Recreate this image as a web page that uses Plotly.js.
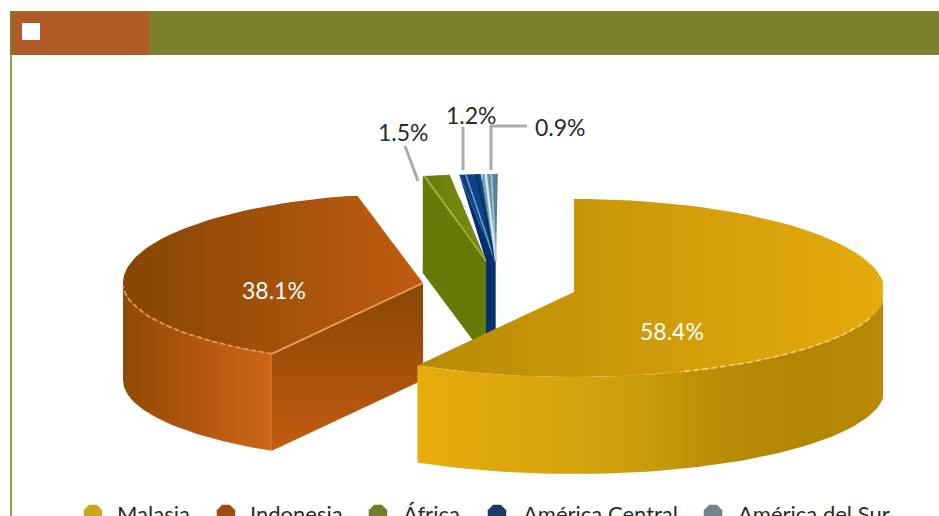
<!DOCTYPE html>
<html>
<head>
<meta charset="utf-8">
<script src="https://cdn.plot.ly/plotly-3.0.1.min.js"></script>
<style>html,body{margin:0;padding:0;background:#fff;overflow:hidden}#chart{width:939px;height:516px}</style>
</head>
<body>
<div id="chart"></div>
<script>
// Share of each origin, in percent, clockwise from twelve o'clock
const categories = ['Malasia', 'Indonesia', 'África', 'América Central', 'América del Sur'];
const shares = [58.4, 38.1, 1.5, 1.2, 0.9];
const shareLabels = ['58.4%', '38.1%', '1.5%', '1.2%', '0.9%'];

// Exploded centre and radii of each wedge, in plot units
const centreX = [574, 423, 486, 495, 496];
const centreY = [292, 283, 261, 261, 261];
const radiusX = [311, 300, 290, 285, 285];
const radiusBack = [93, 90, 87, 87, 87];
const radiusFront = [85, 82, 87, 87, 87];
const depth = 97;

// Colours for each wedge
const swatchColors = ['#C9A81E', '#A04C0C', '#6F7F2A', '#1A3A68', '#6F848F'];
const topStops = [['#B88A05', '#E6AB0C'], ['#874605', '#C05C10'], ['#6A7C08', '#7C8E12'], ['#0B3E80', '#114A8C'], ['#7FA6BC', '#4F7A92']];
const sideColors = ['#B28603', '#A84F0A', '#667A0A', '#062F6C', '#4F7A92'];

// Legend and label placement
const swatchX = [93, 226, 378, 497, 713];
const legendTextX = [115, 248, 401, 521, 736];
const labelX = [672, 274, 403, 471, 560];
const labelY = [331, 290, 132, 115, 127];
const labelColors = ['#ffffff', '#ffffff', '#2a2a2a', '#2a2a2a', '#2a2a2a'];

const clipLeft = 123, clipRight = 883, clipTop = 196;

let running = 0;
const startAngle = [], endAngle = [];
shares.forEach(function (s) {
  startAngle.push(running * 3.6);
  running += s;
  endAngle.push(running * 3.6);
});

function rim(i, deg) {
  const a = deg * Math.PI / 180, c = Math.cos(a);
  const ry = c > 0 ? radiusBack[i] : radiusFront[i];
  return [centreX[i] + radiusX[i] * Math.sin(a), centreY[i] - ry * c];
}
function arc(i, from, to, drop) {
  const pts = [], n = 80;
  for (let k = 0; k <= n; k++) {
    const p = rim(i, from + (to - from) * k / n);
    pts.push([p[0], p[1] + (drop || 0)]);
  }
  return pts;
}
function clampBig(pts) {
  return pts.map(function (p) {
    return [Math.max(clipLeft, Math.min(clipRight, p[0])), Math.max(clipTop, p[1])];
  });
}
function gradient(type, stops) {
  const scale = stops.map(function (c, k) { return [k / (stops.length - 1), c]; });
  return { type: type, colorscale: scale };
}
function poly(pts, fill) {
  const closed = pts.concat([pts[0]]);
  const t = {
    x: closed.map(function (p) { return p[0]; }),
    y: closed.map(function (p) { return p[1]; }),
    mode: 'lines', line: { width: 0 }, fill: 'toself', hoverinfo: 'skip', showlegend: false
  };
  if (typeof fill === 'string') { t.fillcolor = fill; } else { t.fillgradient = fill; t.fillcolor = 'rgba(0,0,0,0)'; }
  return t;
}
function stroke(pts, color, width, dash) {
  return {
    x: pts.map(function (p) { return p[0]; }),
    y: pts.map(function (p) { return p[1]; }),
    mode: 'lines', line: { color: color, width: width, dash: dash || 'solid' },
    hoverinfo: 'skip', showlegend: false
  };
}
function cutFace(i, deg, fill) {
  const r = rim(i, deg), c = [centreX[i], centreY[i]];
  return poly([r, c, [c[0], c[1] + depth], [r[0], r[1] + depth]], fill);
}
function topFace(i) {
  return [[centreX[i], centreY[i]]].concat(arc(i, startAngle[i], endAngle[i]));
}
function outerSide(i, from, to) {
  const upper = arc(i, from, to), lower = arc(i, from, to, depth).reverse();
  return clampBig(upper.concat(lower));
}
function streak(i, f, color, width) {
  const p = rim(i, startAngle[i] + (endAngle[i] - startAngle[i]) * f);
  return stroke([p, [centreX[i], centreY[i]]], color, width);
}

const traces = [];

// Small wedges, standing behind the two large ones
traces.push(cutFace(4, startAngle[4], sideColors[4]));
traces.push(cutFace(3, startAngle[3], sideColors[3]));
traces.push(poly([rim(2, endAngle[2]), rim(3, startAngle[3]), [centreX[2], centreY[2]]], '#ffffff'));
traces.push(cutFace(2, startAngle[2], sideColors[2]));
traces.push(poly(topFace(4), gradient('horizontal', topStops[4])));
traces.push(poly(topFace(3), gradient('horizontal', topStops[3])));
traces.push(poly(topFace(2), gradient('horizontal', topStops[2])));
traces.push(stroke([rim(2, startAngle[2] + 0.4), [centreX[2], centreY[2]]], '#A9B23C', 1.5));
traces.push(streak(3, 0.3, '#6FA0D0', 1.5));
traces.push(streak(3, 0.8, '#0A2F66', 2));
traces.push(streak(4, 0.25, '#D8E6EE', 2.5));
traces.push(streak(4, 0.6, '#A8C6D8', 1.5));

// Indonesia
const ind = 1;
traces.push(poly(clampBig(topFace(ind)), gradient('horizontal', topStops[ind])));
traces.push(poly(outerSide(ind, startAngle[ind], 270), gradient('horizontal', ['#8F4A05', '#B2560F', '#CF6618'])));
traces.push(cutFace(ind, startAngle[ind], gradient('vertical', ['#C45C10', '#A5500A', '#8A4705'])));
traces.push(stroke(clampBig(arc(ind, startAngle[ind], 268)), '#E59A58', 1.8, '5px,3px'));
traces.push(stroke([rim(ind, startAngle[ind]), [centreX[ind], centreY[ind]]], '#E9A060', 1.8));

// Malasia
const mal = 0;
traces.push(poly(clampBig(topFace(mal)), gradient('horizontal', topStops[mal])));
traces.push(poly(outerSide(mal, 90, endAngle[mal]), gradient('horizontal', ['#E8AC0C', '#DFA80C', '#D5A30D', '#C99A0A', '#B78B04', '#B28603', '#B88A05'])));
traces.push(stroke(clampBig(arc(mal, 108, 160)), '#F2D27A', 1.6, '6px,3px'));

// Leader lines to the small wedges
traces.push(stroke([[405, 146], [418, 181]], '#ABABAB', 3));
traces.push(stroke([[463, 127], [463, 170]], '#ABABAB', 3));
traces.push(stroke([[491, 170], [491, 126], [527, 126]], '#ABABAB', 3));

// Legend swatches
traces.push({
  x: swatchX, y: swatchX.map(function () { return 514; }),
  mode: 'markers', cliponaxis: false, hoverinfo: 'skip', showlegend: false,
  marker: { symbol: 'octagon', size: 20, color: swatchColors, line: { width: 0 } }
});

const fontFamily = 'Lato, "Open Sans", sans-serif';
const annotations = [];
shareLabels.forEach(function (t, i) {
  annotations.push({ x: labelX[i], y: labelY[i], text: t, showarrow: false, xanchor: 'center', yanchor: 'middle',
    font: { family: fontFamily, size: 23, color: labelColors[i] } });
});
categories.forEach(function (t, i) {
  annotations.push({ x: legendTextX[i], y: 513, text: t, showarrow: false, xanchor: 'left', yanchor: 'middle',
    font: { family: fontFamily, size: 22, color: '#2a2a2a' } });
});

// Header band and page frame
const shapes = [
  { type: 'rect', x0: 10, x1: 939, y0: 11, y1: 55, fillcolor: '#7E7F2A', line: { width: 0 } },
  { type: 'rect', x0: 12, x1: 149, y0: 12, y1: 55, fillcolor: '#B05A25', line: { width: 0 } },
  { type: 'rect', x0: 22, x1: 40, y0: 23, y1: 40, fillcolor: '#ffffff', line: { width: 0 } },
  { type: 'rect', x0: 10, x1: 12, y0: 55, y1: 516, fillcolor: '#9A9A4C', line: { width: 0 } }
];

const layout = {
  width: 939, height: 516,
  margin: { l: 0, r: 0, t: 0, b: 0 },
  paper_bgcolor: '#ffffff', plot_bgcolor: '#ffffff',
  xaxis: { range: [0, 939], visible: false, fixedrange: true },
  yaxis: { range: [516, 0], visible: false, fixedrange: true },
  shapes: shapes, annotations: annotations, showlegend: false
};
Plotly.newPlot('chart', traces, layout, { displayModeBar: false, staticPlot: true });
</script>
</body>
</html>
